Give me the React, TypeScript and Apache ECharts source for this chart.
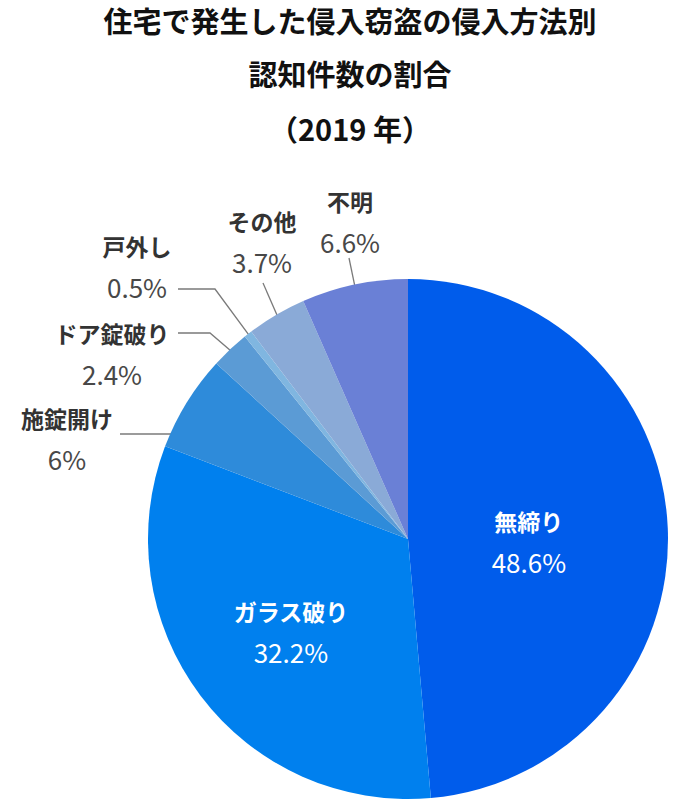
import React, { useEffect, useRef } from "react";
import * as echarts from "echarts";

// slices, clockwise from 12 o'clock
const categories = ["無締り", "ガラス破り", "施錠開け", "ドア錠破り", "戸外し", "その他", "不明"];
const shares = [48.6, 32.2, 6, 2.4, 0.5, 3.7, 6.6];
const sliceColors = ["#005ceb", "#0080ee", "#2e8bda", "#5b9bd5", "#80b6e0", "#8aaad7", "#6a80d6"];
const titleLines = ["住宅で発生した侵入窃盗の侵入方法別", "認知件数の割合", "（2019 年）"];

const CENTER: [number, number] = [408, 539];
const RADIUS = 260;
const FONT = '"Noto Sans CJK JP", "Noto Sans", sans-serif';
const TITLE_TOPS = [3, 56, 111];

// big slices keep their label inside, nudged a little
const insideNudge: Record<string, [number, number]> = {
  無締り: [-12, 8],
  ガラス破り: [-11, 12],
};

// small slices: label block centre, where the leader ends, optional elbow
type Outside = { x: number; y: number; end: [number, number]; elbow?: [number, number]; flat?: boolean };
const outsideLabels: Record<string, Outside> = {
  施錠開け: { x: 67, y: 438, end: [120, 434], flat: true },
  ドア錠破り: { x: 112, y: 353, end: [178, 333], elbow: [210, 333] },
  戸外し: { x: 137, y: 266, end: [178, 289], elbow: [215, 289] },
  その他: { x: 262, y: 241, end: [263, 283] },
  不明: { x: 350, y: 221, end: [349, 258] },
};

const App: React.FC = () => {
  const chartRef = useRef<HTMLDivElement | null>(null);

  useEffect(() => {
    document.body.style.margin = "0";
    if (!chartRef.current) return;
    const chart = echarts.init(chartRef.current, undefined, { renderer: "svg" });

    const total = shares.reduce((a, b) => a + b, 0);
    // fallback anchor on the rim, at the middle of slice i
    const rimPoint = (i: number) => {
      const before = shares.slice(0, i).reduce((a, b) => a + b, 0);
      const ang = ((before + shares[i] / 2) / total) * Math.PI * 2;
      return [CENTER[0] + RADIUS * Math.sin(ang), CENTER[1] - RADIUS * Math.cos(ang)];
    };

    const data = categories.map((name, i) => {
      const inside = name in insideNudge;
      return {
        name,
        value: shares[i],
        itemStyle: { color: sliceColors[i] },
        label: {
          position: inside ? "inside" : "outside",
          formatter: "{n|{b}}\n{v|{c}%}",
          rich: {
            n: {
              fontFamily: FONT,
              fontSize: 23,
              fontWeight: "bold",
              lineHeight: 40,
              color: inside ? "#ffffff" : "#333333",
            },
            v: {
              fontFamily: FONT,
              fontSize: 26,
              lineHeight: 40,
              color: inside ? "#ffffff" : "#484848",
            },
          },
        },
        labelLine: { show: !inside, lineStyle: { color: "#7a7a7a", width: 1.3 } },
      };
    });

    chart.setOption({
      animation: false,
      backgroundColor: "#ffffff",
      title: titleLines.map((text, i) => ({
        text,
        left: "center",
        top: TITLE_TOPS[i],
        padding: 0,
        textStyle: {
          fontFamily: FONT,
          fontSize: 29,
          fontWeight: "bold",
          color: "#111111",
          lineHeight: 34,
        },
      })),
      series: [
        {
          type: "pie",
          center: CENTER,
          radius: RADIUS,
          startAngle: 90,
          clockwise: true,
          avoidLabelOverlap: false,
          silent: true,
          itemStyle: { borderWidth: 0 },
          emphasis: { disabled: true },
          data,
          labelLayout: (params: any) => {
            const name = categories[params.dataIndex];
            if (name in insideNudge) {
              const [dx, dy] = insideNudge[name];
              return { dx, dy };
            }
            const cfg = outsideLabels[name];
            if (!cfg) return {};
            let start: number[];
            if (cfg.flat) {
              // horizontal leader at the label's height, starting just inside the rim
              const y = cfg.end[1];
              const x = CENTER[0] - Math.sqrt(RADIUS * RADIUS - (y - CENTER[1]) ** 2) + 20;
              start = [x, y];
            } else {
              const rim = (params.labelLinePoints && params.labelLinePoints[0]) || rimPoint(params.dataIndex);
              const dx = rim[0] - CENTER[0];
              const dy = rim[1] - CENTER[1];
              const len = Math.sqrt(dx * dx + dy * dy) || 1;
              start = [rim[0] - (dx / len) * 4, rim[1] - (dy / len) * 4];
            }
            const pts = cfg.elbow ? [start, cfg.elbow, cfg.end] : [start, cfg.end];
            return {
              x: cfg.x,
              y: cfg.y,
              align: "center",
              verticalAlign: "middle",
              labelLinePoints: pts,
            };
          },
        },
      ],
    });

    return () => {
      chart.dispose();
    };
  }, []);

  return <div ref={chartRef} style={{ width: 700, height: 808 }}></div>;
};

export default App;
